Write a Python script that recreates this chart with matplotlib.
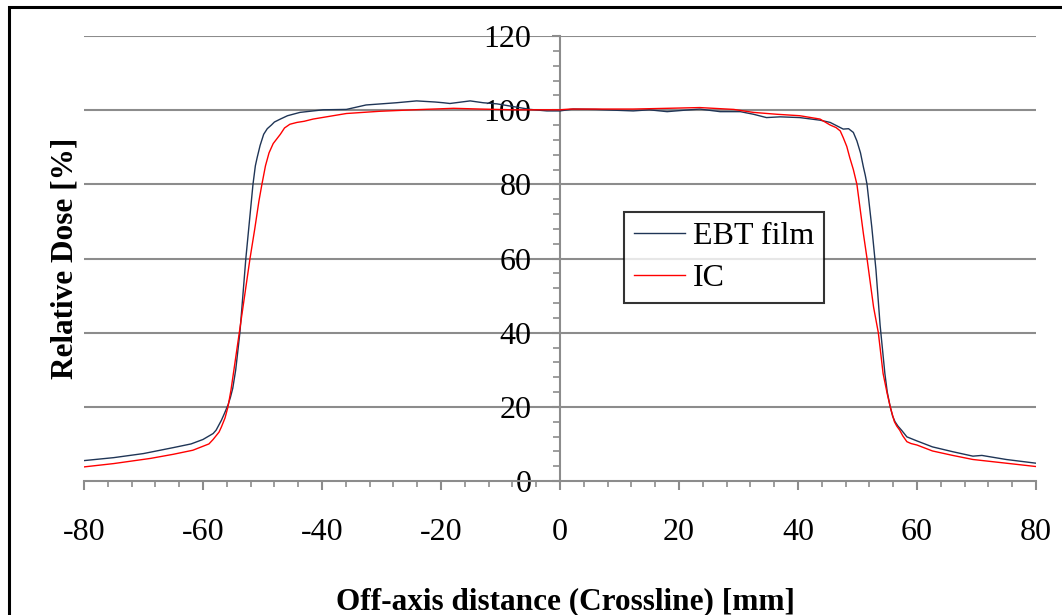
import matplotlib
matplotlib.use("Agg")
import matplotlib.pyplot as plt
from matplotlib.ticker import MultipleLocator
from matplotlib.patches import Rectangle

plt.rcParams['font.family'] = ['Liberation Serif', 'DejaVu Serif']

# EBT film profile (off-axis distance mm, relative dose %)
ebt_x = [-80, -75, -70, -65, -62, -60, -58.3, -57.8, -56.9, -56.4, -55.8, -55.4, -55.0, -54.5,
         -53.8, -52.8, -52.2, -51.6, -51.2, -50.9, -50.4, -49.8, -49.2, -48.5, -48.0, -47.0,
         -45.8, -43.7, -39.8, -35.9, -32.6, -27.5,
         -24.1, -21, -19.6, -18.5, -15.1, -12.9, -10.6, -5.0, -2.2, 0, 2.2, 6, 9, 12.3,
         15, 18, 21, 23.5, 26.9, 30.3, 32.5, 34.7, 37, 40.3, 43.7, 45.4, 47.6, 48.5,
         49.3, 49.9, 50.5, 51.0, 51.3, 51.6, 52.4, 53.1, 53.8, 54.6, 55.0, 55.5, 55.9, 56.3,
         56.8, 57.4, 58.3, 60, 62.6, 66, 69.4, 70.9, 72, 75, 80]
ebt_y = [5.5, 6.3, 7.4, 9.0, 10.0, 11.2, 12.8, 13.7, 16.4, 18.2, 20.5, 22.5, 25, 30,
         40, 60, 70, 80, 85, 87.2, 90.5, 93.5, 95.0, 96.0, 96.8, 97.6,
         98.5, 99.4, 100.1, 100.2, 101.4, 102.0,
         102.5, 102.2, 102.0, 101.8, 102.5, 102.0, 101.7, 100.2, 99.8, 99.8, 100.3, 100.2, 100.0, 99.8,
         100.1, 99.6, 100.0, 100.3, 99.6, 99.6, 98.9, 98.0, 98.2, 98.0, 97.3, 96.7, 94.9, 95.0,
         94.0, 91.7, 88.5, 84.6, 82.5, 80, 68.5, 57, 42, 29, 24, 20, 17.5, 16,
         14.8, 13.7, 11.9, 10.8, 9.2, 7.9, 6.7, 6.9, 6.6, 5.8, 4.8]

# Ion chamber profile
ic_x = [-80, -75, -68.8, -65, -61.7, -59, -58.3, -57.3, -56.9, -56.3, -55.8, -55.3, -54.8,
        -53.9, -52.1, -51.3, -50.6, -50.1, -49.5, -48.9, -48.2, -47.0, -46.3, -45.4, -44.2,
        -43, -41.5, -35.9, -30.3, -24.6, -17.9, -13.4,
        -7.9, 0, 1.7, 12.3, 18, 23.5, 29.2, 32.5, 36.4, 40.3, 43.7, 45.4, 46.4, 47.1, 47.6,
        48.2, 48.7, 49.3, 49.9, 51.0, 51.6, 52.7, 53.5, 54.3, 55.0, 55.5, 56.2, 56.6, 57.1,
        57.6, 58.3, 59, 60, 62.6, 66, 69.4, 75, 80]
ic_y = [3.8, 4.7, 6.1, 7.2, 8.3, 10.0, 11.2, 13.2, 14.6, 17, 20, 24.5, 30,
        40, 60, 68, 75.5, 80, 85, 88.5, 91, 93.5, 95.2, 96.2, 96.7,
        97.0, 97.6, 99.1, 99.7, 100.1, 100.5, 100.3,
        100.1, 100.1, 100.3, 100.3, 100.5, 100.7, 100.2, 99.4, 98.9, 98.5, 97.6, 96.0, 95.3, 94.4, 92.6,
        90.2, 87.2, 84, 80, 66.6, 60, 46.9, 40, 29, 23.5, 20, 16, 14.8, 13.7,
        12.2, 10.6, 10.1, 9.7, 8.1, 6.9, 5.8, 4.8, 3.9]

grey = '#8c8c8c'

fig = plt.figure(figsize=(10.62, 6.15), dpi=100)
ax = fig.add_axes([84/1062, 1-481/615, (1036-84)/1062, (481-36)/615])

ax.set_xlim(-80, 80)
ax.set_ylim(0, 120)

for v in range(20, 121, 20):
    ax.axhline(v, color=grey, lw=1.5, zorder=1)

ax.plot(ebt_x, ebt_y, color='#1f3556', lw=1.0, label='EBT film', zorder=3)
ax.plot(ic_x, ic_y, color='#ff0000', lw=1.0, label='IC', zorder=3)

for s in ['top', 'right']:
    ax.spines[s].set_visible(False)
ax.spines['left'].set_position(('data', 0))
ax.spines['left'].set_color(grey)
ax.spines['left'].set_linewidth(1.5)
ax.spines['bottom'].set_color(grey)
ax.spines['bottom'].set_linewidth(1.5)

ax.xaxis.set_major_locator(MultipleLocator(20))
ax.xaxis.set_minor_locator(MultipleLocator(4))
ax.yaxis.set_major_locator(MultipleLocator(20))
ax.yaxis.set_minor_locator(MultipleLocator(4))
ax.tick_params(axis='x', which='major', direction='out', length=6.5, width=1.5,
               color=grey, pad=20, labelsize=23)
ax.tick_params(axis='x', which='minor', direction='out', length=4.5, width=1.2, color=grey)
ax.tick_params(axis='y', which='major', direction='out', length=5.5, width=1.5,
               color=grey, pad=15, labelsize=23)
ax.tick_params(axis='y', which='minor', direction='out', length=5, width=1.2, color=grey)
ax.set_xticklabels([f'{int(v)}' for v in ax.get_xticks()])

fig.text(65/1062, 1-258/615, 'Relative Dose [%]', rotation=90, fontsize=22.5,
         fontweight='bold', ha='center', va='center')
fig.text(565/1062, 1-602/615, 'Off-axis distance (Crossline) [mm]', fontsize=22.5,
         fontweight='bold', ha='center', va='center')

leg = ax.legend(loc='upper left', bbox_to_anchor=(624/1062, 1-212/615),
                bbox_transform=fig.transFigure, fontsize=23, frameon=True,
                fancybox=False, edgecolor='black', handlelength=1.6,
                handletextpad=0.25, labelspacing=0.4, borderpad=0.3,
                borderaxespad=0)
leg.get_frame().set_linewidth(1.5)
leg.set_zorder(5)

fig.patches.append(Rectangle((9/1062, -0.1), 1.2, 1.1 - 7/615, transform=fig.transFigure,
                             fill=False, edgecolor='black', lw=2.2))

fig.savefig('out.png', dpi=100)
